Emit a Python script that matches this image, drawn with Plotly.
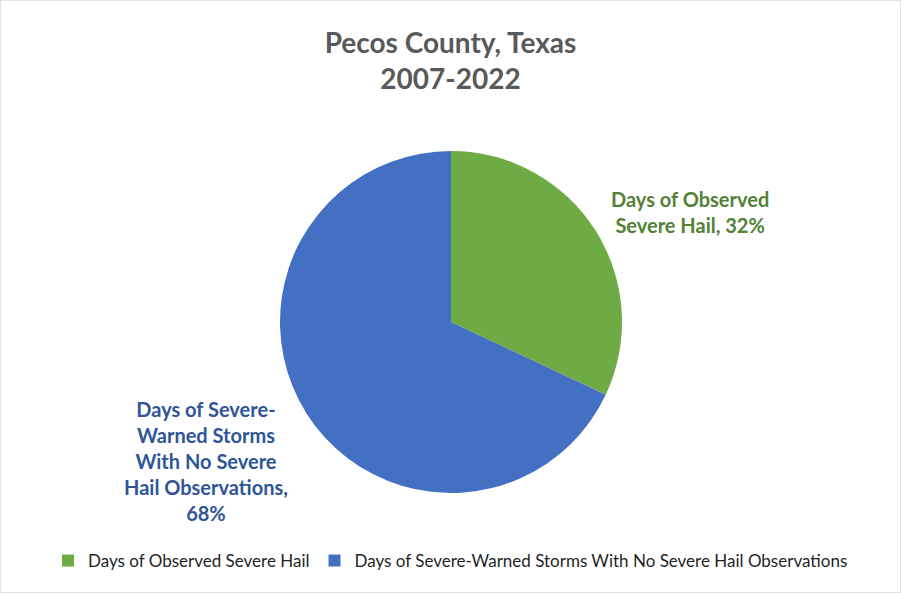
import plotly.graph_objects as go

# Share of severe-warned storm days, Pecos County TX, 2007-2022
categories = [
    "Days of Observed Severe Hail",
    "Days of Severe-Warned Storms With No Severe Hail Observations",
]
shares = [32, 68]
slice_colors = ["#6fab45", "#4470c4"]
label_colors = ["#538135", "#2f5597"]
label_text = [
    "Days of Observed<br>Severe Hail, 32%",
    "Days of Severe-<br>Warned Storms<br>With No Severe<br>Hail Observations,<br>68%",
]

W, H = 901, 593
FONT = "Lato"

fig = go.Figure(
    go.Pie(
        labels=categories,
        values=shares,
        sort=False,
        direction="clockwise",
        rotation=0,
        marker=dict(colors=slice_colors, line=dict(width=0)),
        textinfo="none",
        hoverinfo="label+percent",
        domain=dict(x=[280 / W, 622 / W], y=[(H - 493) / H, (H - 151) / H]),
    )
)

# Data labels beside each slice
fig.add_annotation(
    x=690 / W, y=1 - 212 / H, xref="paper", yref="paper",
    xanchor="center", yanchor="middle",
    text=f"<b>{label_text[0]}</b>", showarrow=False, align="center",
    font=dict(family=FONT, size=20, color=label_colors[0]),
)
fig.add_annotation(
    x=206 / W, y=1 - 461 / H, xref="paper", yref="paper",
    xanchor="center", yanchor="middle",
    text=f"<b>{label_text[1]}</b>", showarrow=False, align="center",
    font=dict(family=FONT, size=20, color=label_colors[1]),
)

# Chart frame
fig.add_shape(
    type="rect", xref="paper", yref="paper", x0=0, y0=0, x1=1, y1=1,
    line=dict(color="#d9d9d9", width=1.5),
)

fig.update_layout(
    width=W, height=H,
    margin=dict(l=0, r=0, t=0, b=0),
    paper_bgcolor="white",
    plot_bgcolor="white",
    title=dict(
        text="<b>Pecos County, Texas<br>2007-2022</b>",
        x=0.5, xanchor="center", y=1 - 53 / H, yanchor="middle",
        font=dict(family=FONT, size=28, color="#595959"),
    ),
    legend=dict(
        orientation="h", x=0.5, xanchor="center", y=1 - 561 / H, yanchor="middle",
        font=dict(family=FONT, size=17, color="#1f1f1f"),
        itemwidth=30, tracegroupgap=0,
    ),
    showlegend=True,
)

fig.write_html("out.html")
